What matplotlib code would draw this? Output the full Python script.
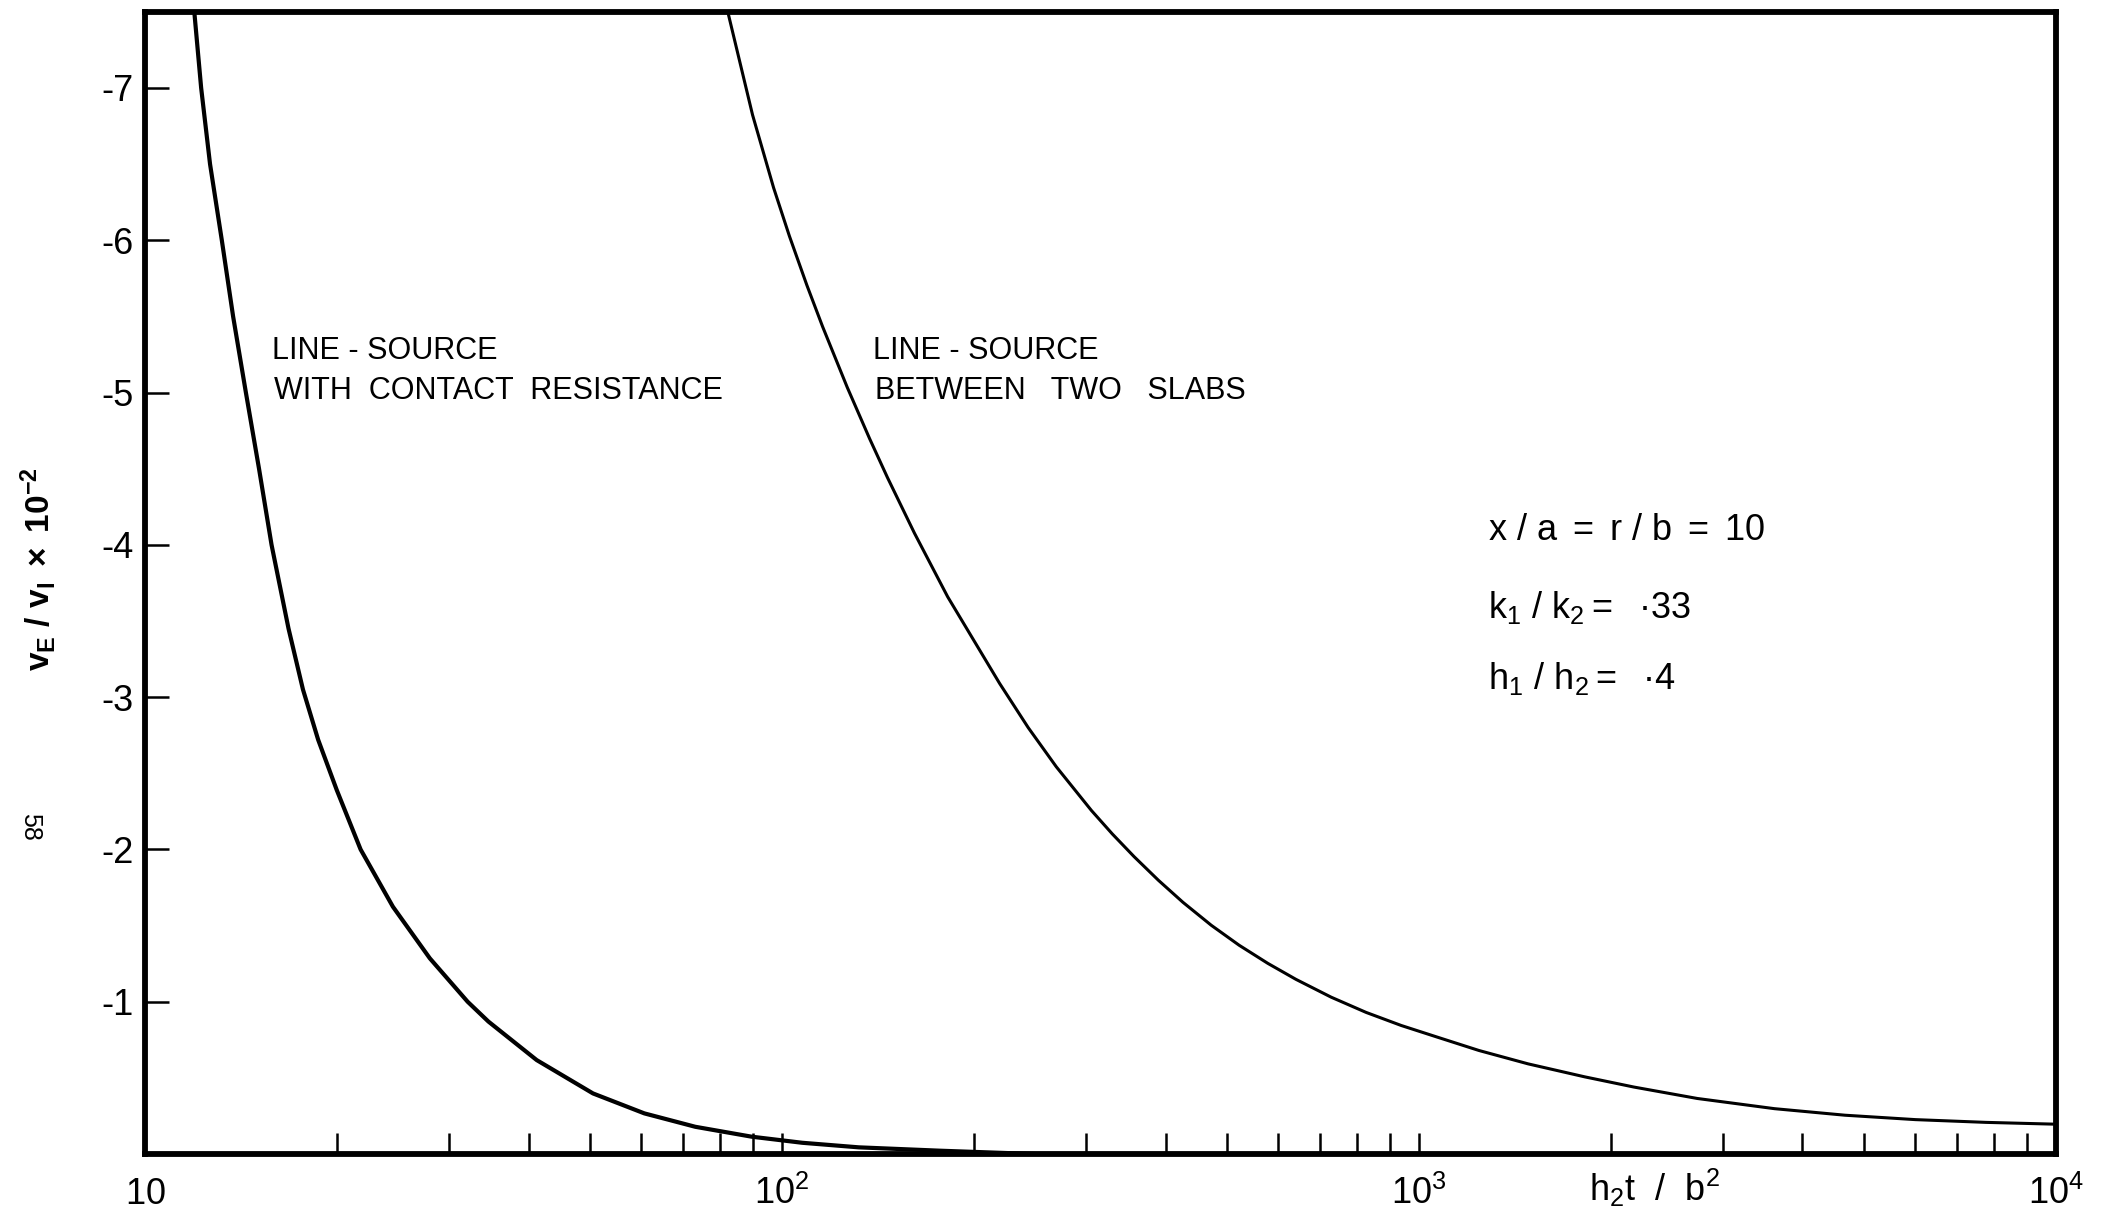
import matplotlib
matplotlib.use('Agg')
import matplotlib.pyplot as plt
from matplotlib.ticker import FixedLocator, NullFormatter

#fonts: plain sans for text, same face for the math parts
plt.rcParams['font.family'] = ['Liberation Sans', 'DejaVu Sans']
plt.rcParams['mathtext.fontset'] = 'custom'
plt.rcParams['mathtext.rm'] = 'Liberation Sans'
plt.rcParams['mathtext.it'] = 'Liberation Sans:italic'
plt.rcParams['mathtext.bf'] = 'Liberation Sans:bold'

#line-source with contact resistance
t_contact = [11.95, 12.25, 12.65, 13.2, 13.75, 14.4, 15.1, 15.8, 16.8, 17.7,
             18.7, 20.0, 21.8, 24.5, 28.0, 32.1, 34.6, 41.2, 50.5, 60.8,
             73.1, 89.6, 107.6, 132.0, 177.0, 250.0]
v_contact = [-7.5, -7.0, -6.5, -6.0, -5.5, -5.0, -4.5, -4.0, -3.45, -3.05,
             -2.72, -2.39, -2.0, -1.624, -1.285, -1.0, -0.87, -0.617, -0.398, -0.267,
             -0.179, -0.114, -0.074, -0.044, -0.022, 0.0]

#line-source between two slabs
t_slabs = [82.2, 89.9, 97.0, 102.7, 109.4, 115.8, 126.6, 137.3, 146.4, 161.4,
           182.0, 219.6, 243.5, 269.5, 306, 330, 357, 390, 426, 472,
           522, 579, 641, 728, 826, 938, 1066, 1242, 1484, 1820,
           2174, 2734, 3614, 4664, 6018, 7762, 10000]
v_slabs = [-7.5, -6.823, -6.345, -6.028, -5.705, -5.433, -5.034, -4.696, -4.442, -4.077,
           -3.659, -3.09, -2.80, -2.543, -2.256, -2.102, -1.953, -1.797, -1.653, -1.502,
           -1.371, -1.252, -1.147, -1.03, -0.93, -0.844, -0.769, -0.68, -0.592, -0.507,
           -0.44, -0.365, -0.298, -0.255, -0.226, -0.208, -0.196]

#axis ticks
y_ticks = [-1, -2, -3, -4, -5, -6, -7]
y_tick_labels = ['-1', '-2', '-3', '-4', '-5', '-6', '-7']
x_major = [10, 100, 1000, 10000]
x_major_labels = [r'$\mathrm{10}$', r'$\mathrm{10^{2}}$', r'$\mathrm{10^{3}}$', r'$\mathrm{10^{4}}$']
x_minor = [m * 10 ** e for e in (1, 2, 3) for m in range(2, 10)]

#parameters of the case
params = [r'$\mathrm{x\ /\ a\ =\ r\ /\ b\ =\ 10}$',
          r'$\mathrm{k_1\ /\ k_2=\ \ ·33}$',
          r'$\mathrm{h_1\ /\ h_2=\ \ ·4}$']

fig = plt.figure(figsize=(21.2, 12.13), dpi=100)
ax = fig.add_axes([0.0684, 0.0486, 0.9014, 0.9417])

ax.plot(t_contact, v_contact, color='black', lw=3.0)
ax.plot(t_slabs, v_slabs, color='black', lw=2.2)

ax.set_xscale('log')
ax.set_xlim(10, 1e4)
ax.set_ylim(0, -7.5)

for s in ax.spines.values():
    s.set_linewidth(4.2)

ax.set_xticks(x_major, x_major_labels)
ax.xaxis.set_minor_locator(FixedLocator(x_minor))
ax.xaxis.set_minor_formatter(NullFormatter())
ax.set_yticks(y_ticks, y_tick_labels)
ax.tick_params(which='both', direction='in', width=1.8, top=False, right=False)
ax.tick_params(axis='x', which='both', length=15)
ax.tick_params(axis='x', pad=36, labelsize=26)
ax.tick_params(axis='y', length=17, pad=8, labelsize=26)
for lbl in ax.get_xticklabels():
    lbl.set_verticalalignment('baseline')

#axis labels
ax.set_xlabel(r'$\mathrm{h_2t\ \ /\ \ b^2}$', fontsize=26, ha='left', va='baseline')
ax.xaxis.set_label_coords(0.7556, -0.041)
ax.set_ylabel(r'$\mathbf{v_E\ /\ v_I\ \times\ 10^{-2}}$', fontsize=24, va='center')
ax.yaxis.set_label_coords(-0.056, 0.512)

#curve names
ax.text(0.0665, 0.6964, 'LINE - SOURCE', transform=ax.transAxes, fontsize=22, va='baseline')
ax.text(0.0675, 0.661, 'WITH  CONTACT  RESISTANCE', transform=ax.transAxes, fontsize=22, va='baseline')
ax.text(0.381, 0.6964, 'LINE - SOURCE', transform=ax.transAxes, fontsize=22, va='baseline')
ax.text(0.382, 0.661, 'BETWEEN   TWO   SLABS', transform=ax.transAxes, fontsize=22, va='baseline')

for txt, yy in zip(params, [0.538, 0.469, 0.407]):
    ax.text(0.703, yy, txt, transform=ax.transAxes, fontsize=26, va='baseline')

#page number
fig.text(0.0142, 0.318, '58', rotation=-90, fontsize=18, ha='center', va='center')

fig.savefig('out.png', dpi=100, facecolor='white')
